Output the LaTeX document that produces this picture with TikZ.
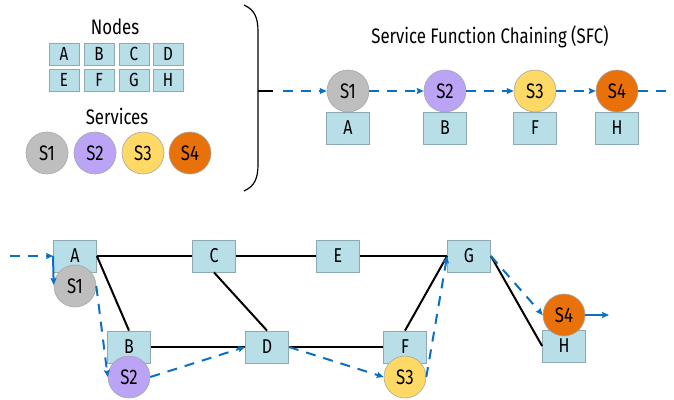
\documentclass[tikz,border=0pt]{standalone}
\usepackage{fontspec}
\setmainfont[FakeStretch=0.8]{Fira Sans}
\usetikzlibrary{arrows.meta}
\definecolor{boxfill}{HTML}{B8DEE8}
\definecolor{boxline}{HTML}{8FA9B2}
\definecolor{cA}{HTML}{BEBEBE}
\definecolor{cB}{HTML}{BBA4F6}
\definecolor{cC}{HTML}{FFD966}
\definecolor{cD}{HTML}{E8710A}
\definecolor{flow}{HTML}{0B6FC4}
\tikzset{
  lbox/.style={rectangle, fill=boxfill, draw=boxline, line width=0.8pt, minimum width=30pt, minimum height=22pt, inner sep=0pt, font=\fontsize{19}{19}\selectfont},
  gbox/.style={rectangle, fill=boxfill, draw=boxline, line width=0.8pt, minimum width=43pt, minimum height=32pt, inner sep=0pt, font=\fontsize{20}{20}\selectfont},
  svc/.style={circle, draw=black!35, line width=0.6pt, minimum size=42pt, inner sep=0pt, font=\fontsize{21}{21}\selectfont},
  ttl/.style={font=\fontsize{21}{21}\selectfont},
  flowline/.style={flow, line width=2pt, dash pattern=on 10pt off 8pt},
  flowarr/.style={flowline, -{Stealth[length=7pt,width=6pt,inset=1pt]}},
  edge/.style={black, line width=2pt},
}
\begin{document}
\begin{tikzpicture}[x=1pt,y=-1pt]
\useasboundingbox (0,0) rectangle (674,399);
% legend
\node[ttl] (nodesT) at (115,27) {Nodes};
\node[lbox] (la) at (64,54) {A};
\node[lbox] (lb) at (99,54) {B};
\node[lbox] (lc) at (134,54) {C};
\node[lbox] (ld) at (168,54) {D};
\node[lbox] (le) at (64,80) {E};
\node[lbox] (lf) at (99,80) {F};
\node[lbox] (lg) at (134,80) {G};
\node[lbox] (lh) at (168,80) {H};
\node[ttl] (servT) at (117,116) {Services};
\node[svc, fill=cA] (l1) at (47,153) {S1};
\node[svc, fill=cB] (l2) at (95,153) {S2};
\node[svc, fill=cC] (l3) at (143,153) {S3};
\node[svc, fill=cD] (l4) at (190,153) {S4};
% brace
\draw[black, line width=1.2pt] (244,5) .. controls (255,10) and (258,18) .. (258,32) -- (258,164) .. controls (258,178) and (255,186) .. (244,191);
\draw[black, line width=1.2pt] (258,91) -- (273,91);
% SFC chain
\node[ttl] (sfcT) at (490,37) {Service Function Chaining (SFC)};
\node[gbox] (ca) at (348,128) {A};
\node[gbox] (cb) at (445,128) {B};
\node[gbox] (cf) at (535,128) {F};
\node[gbox] (ch) at (617,128) {H};
\node[svc, fill=cA] (c1) at (348,91) {S1};
\node[svc, fill=cB] (c2) at (445,91) {S2};
\node[svc, fill=cC] (c3) at (535,91) {S3};
\node[svc, fill=cD] (c4) at (617,91) {S4};
\coordinate (cin) at (283,91);
\coordinate (cout) at (674,91);
\draw[flowarr] (cin) -- (c1);
\draw[flowarr] (c1) -- (c2);
\draw[flowarr] (c2) -- (c3);
\draw[flowarr] (c3) -- (c4);
\draw[flowline] (c4) -- (cout);
% graph
\node[gbox] (A) at (75,256) {A};
\node[gbox] (C) at (214,256) {C};
\node[gbox] (E) at (338,256) {E};
\node[gbox] (G) at (469,256) {G};
\node[gbox] (B) at (129,347) {B};
\node[gbox] (D) at (267,347) {D};
\node[gbox] (F) at (405,347) {F};
\node[gbox] (H) at (564,346) {H};
\draw[edge] (A.east) -- (C.west);
\draw[edge] (C.east) -- (E.west);
\draw[edge] (E.east) -- (G.west);
\draw[edge] (B.east) -- (D.west);
\draw[edge] (D.east) -- (F.west);
\draw[edge] (A.east) -- (B.north);
\draw[edge] (C.south) -- (D.north);
\draw[edge] (F.north) -- (G.west);
\draw[edge] (G.east) -- (H.west);
\node[svc, fill=cA] (S1) at (75,286) {S1};
\node[svc, fill=cB] (S2) at (129,377) {S2};
\node[svc, fill=cC] (S3) at (405,377) {S3};
\node[svc, fill=cD] (S4) at (564,315) {S4};
\coordinate (gin) at (10,256);
\coordinate (gout) at (609,315);
\coordinate (aturn) at (53,256);
\draw[flowarr] (gin) -- (A.west);
\draw[flow, line width=2pt, -{Stealth[length=7pt,width=6pt,inset=1pt]}] (aturn) -- (S1.west |- 0,285);
\draw[flowarr] (S1.east) -- (S2.west);
\draw[flowarr] (S2.east) -- (D.west);
\draw[flowarr] (D.east) -- (S3.west);
\draw[flowarr] (S3.east) -- (G.west);
\draw[flowarr] (G.east) -- (S4.west);
\draw[flow, line width=2pt, -{Stealth[length=7pt,width=6pt,inset=1pt]}] (S4.east) -- (gout);
\end{tikzpicture}
\end{document}
